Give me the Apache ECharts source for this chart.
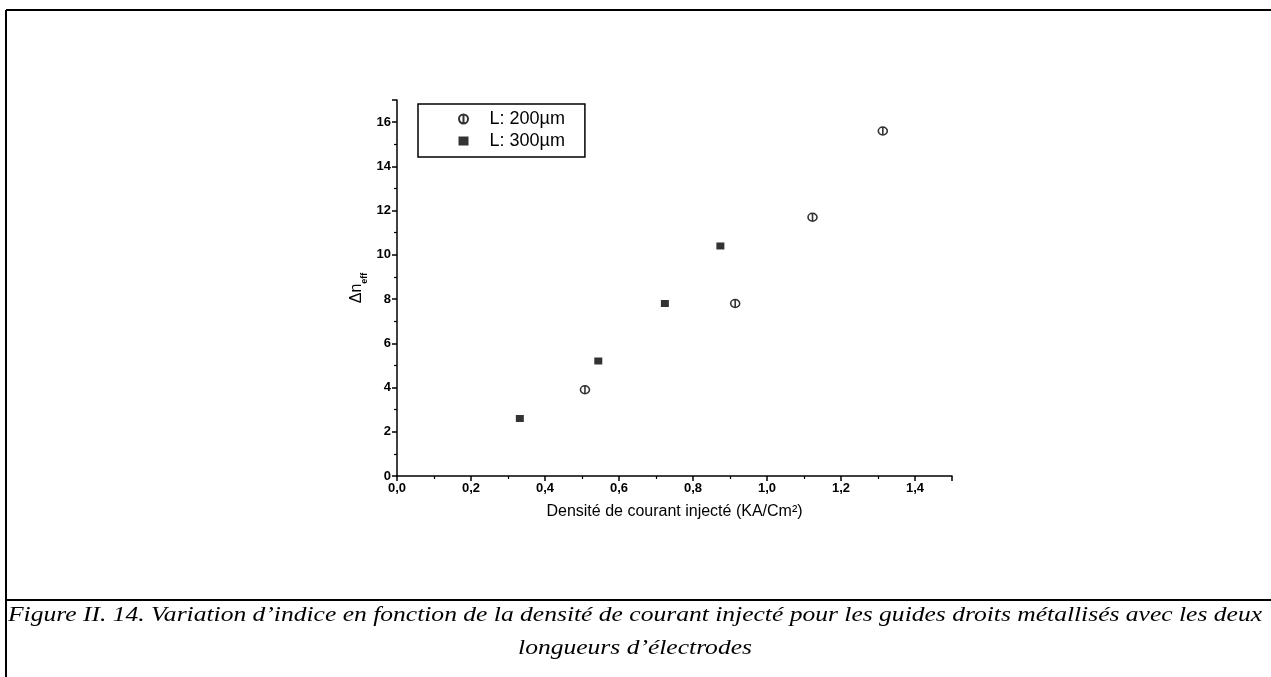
<!DOCTYPE html>
<html>
<head>
<meta charset="utf-8">
<script src="https://cdn.jsdelivr.net/npm/echarts@6/dist/echarts.min.js"></script>
<style>
  html, body { margin: 0; padding: 0; background: #fff; }
  #main { width: 1271px; height: 677px; }
</style>
</head>
<body>
<div id="main"></div>
<script>
// valeurs
var x200 = [0.508, 0.914, 1.123, 1.313];
var y200 = [3.9, 7.8, 11.7, 15.6];
var x300 = [0.332, 0.544, 0.724, 0.874];
var y300 = [2.6, 5.2, 7.8, 10.4];
var seriesNames = ['L: 200µm', 'L: 300µm'];
var caption1 = "Figure II. 14. Variation d\u2019indice en fonction de la densité de courant injecté pour les guides droits métallisés avec les deux";
var caption2 = "longueurs d\u2019électrodes";

function pairs(xs, ys) {
    var out = [];
    for (var i = 0; i < xs.length; i++) out.push([xs[i], ys[i]]);
    return out;
}

// cercle barré (symbole Origin)
var phiSymbol = 'path://M5,0A5,5 0 1,1 4.999,0ZM5,0L5,10';

// largeur du texte pour étirer la légende comme le scan
var capFamily = '"Times New Roman", "Liberation Serif", serif';
function textWidth(txt, font) {
    var ctx = document.createElement('canvas').getContext('2d');
    ctx.font = font;
    return ctx.measureText(txt).width;
}
var capSize = 21;
var capScale = 1254 / textWidth(caption1, 'italic ' + capSize + 'px ' + capFamily);
var capStyle = { fill: '#000', fontFamily: capFamily, fontStyle: 'italic', fontSize: capSize, align: 'center', verticalAlign: 'middle' };

var myChart = echarts.init(document.getElementById('main'));

var option = {
    backgroundColor: '#fff',
    animation: false,
    grid: { left: 397, top: 100, right: 319, bottom: 201 },
    legend: {
        orient: 'vertical',
        left: 418,
        top: 104,
        padding: [6, 20, 7, 40],
        borderColor: '#000',
        borderWidth: 1.5,
        itemGap: 4,
        itemWidth: 10,
        itemHeight: 9,
        textStyle: { fontFamily: 'Liberation Sans', fontSize: 18, color: '#000', padding: [0, 0, 0, 16] },
        data: seriesNames
    },
    xAxis: {
        type: 'value',
        min: 0, max: 1.5, interval: 0.2,
        name: 'Densité de courant injecté (KA/Cm²)',
        nameLocation: 'middle',
        nameGap: 28,
        nameTextStyle: { fontFamily: 'Liberation Sans', fontSize: 16, color: '#000' },
        splitLine: { show: false },
        axisLine: { lineStyle: { color: '#000', width: 1.5 } },
        axisTick: { inside: false, length: 5, lineStyle: { color: '#000', width: 1.5 } },
        minorTick: { show: true, splitNumber: 2, length: 3, lineStyle: { color: '#000', width: 1.2 } },
        axisLabel: {
            fontFamily: 'Liberation Sans', fontSize: 13, fontWeight: 'bold', color: '#000', margin: 6,
            showMaxLabel: false,
            formatter: function (v) { return v.toFixed(1).replace('.', ','); }
        }
    },
    yAxis: {
        type: 'value',
        min: 0, max: 17, interval: 2,
        name: '{a|Δn}{b|eff}',
        nameLocation: 'middle',
        nameGap: 28,
        nameRotate: 90,
        nameTextStyle: {
            rich: {
                a: { fontFamily: 'Liberation Sans', fontSize: 16, color: '#000', verticalAlign: 'bottom', padding: [0, 0, 4, 0] },
                b: { fontFamily: 'Liberation Sans', fontSize: 9, color: '#000', verticalAlign: 'bottom', fontWeight: 'bold' }
            }
        },
        splitLine: { show: false },
        axisLine: { show: true, lineStyle: { color: '#000', width: 1.5 } },
        axisTick: { show: true, inside: false, length: 5, lineStyle: { color: '#000', width: 1.5 } },
        minorTick: { show: true, splitNumber: 2, length: 3, lineStyle: { color: '#000', width: 1.2 } },
        axisLabel: {
            fontFamily: 'Liberation Sans', fontSize: 13, fontWeight: 'bold', color: '#000', margin: 6,
            showMaxLabel: false
        }
    },
    series: [
        {
            name: seriesNames[0],
            type: 'scatter',
            symbol: phiSymbol,
            symbolSize: [9, 8],
            itemStyle: { color: 'rgba(0,0,0,0)', borderColor: '#000', borderWidth: 1.5 },
            data: pairs(x200, y200)
        },
        {
            name: seriesNames[1],
            type: 'scatter',
            symbol: 'rect',
            symbolSize: [8, 7],
            itemStyle: { color: '#000' },
            data: pairs(x300, y300)
        }
    ],
    graphic: [
        { type: 'line', shape: { x1: 6, y1: 10, x2: 1271, y2: 10 }, style: { stroke: '#000', lineWidth: 2 } },
        { type: 'line', shape: { x1: 6, y1: 10, x2: 6, y2: 677 }, style: { stroke: '#000', lineWidth: 2 } },
        { type: 'line', shape: { x1: 6, y1: 600, x2: 1271, y2: 600 }, style: { stroke: '#000', lineWidth: 2 } },
        {
            type: 'text', x: 635, y: 615, scaleX: capScale, originX: 0, originY: 0,
            style: Object.assign({ text: caption1 }, capStyle)
        },
        {
            type: 'text', x: 635, y: 648, scaleX: capScale, originX: 0, originY: 0,
            style: Object.assign({ text: caption2 }, capStyle)
        }
    ]
};

myChart.setOption(option);
</script>
</body>
</html>
